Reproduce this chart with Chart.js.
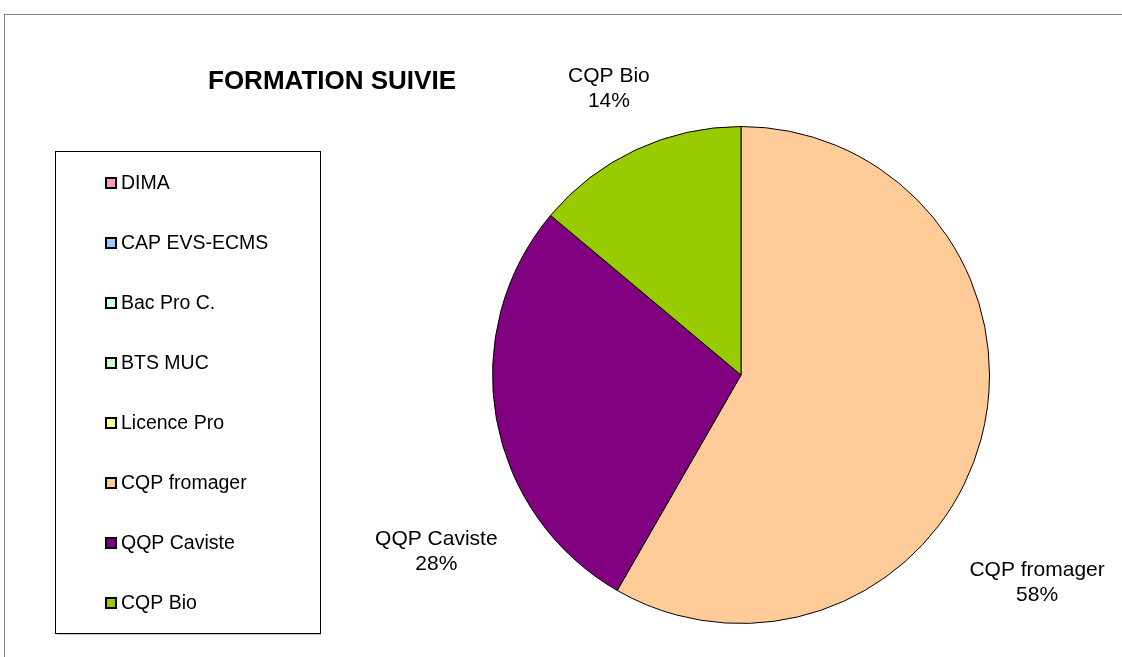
<!DOCTYPE html>
<html>
<head>
    <title>Formation suivie</title>
    <script src="https://cdn.jsdelivr.net/npm/chart.js"></script>
    <style>
        body { margin: 0; padding: 0; background: #ffffff; }
        .chart-container { width: 1122px; height: 657px; }
    </style>
</head>
<body>
    <div class="chart-container">
        <canvas id="formationChart"></canvas>
    </div>

    <script>
        // données du graphique
        const categories = ['DIMA', 'CAP EVS-ECMS', 'Bac Pro C.', 'BTS MUC', 'Licence Pro', 'CQP fromager', 'QQP Caviste', 'CQP Bio'];
        const percents = [0, 0, 0, 0, 0, 58.3, 27.8, 13.9];
        const colors = ['#FF99CC', '#99CCFF', '#CCFFFF', '#CCFFCC', '#FFFF99', '#FFCC99', '#800080', '#99CC00'];

        const FONT = '"Liberation Sans", Arial, sans-serif';

        // décalage des étiquettes (style, par rapport au bord de la part)
        const labelShift = {
            'CQP fromager': [56, 143],
            'QQP Caviste': [-60, 133],
            'CQP Bio': [-27, -62]
        };

        // cadre, titre et légende façon Excel
        const decorPlugin = {
            id: 'decor',
            beforeDraw(chart) {
                const c = chart.ctx;
                c.save();
                c.fillStyle = '#ffffff';
                c.fillRect(0, 0, chart.width, chart.height);
                c.strokeStyle = '#808080';
                c.lineWidth = 1;
                c.strokeRect(4.5, 14.5, chart.width + 10, chart.height + 10);

                // titre
                c.fillStyle = '#000000';
                c.font = 'bold 26px ' + FONT;
                c.textAlign = 'center';
                c.textBaseline = 'middle';
                c.fillText('FORMATION SUIVIE', 332, 82);

                // boîte de légende
                c.strokeStyle = '#c8c8c8';
                c.beginPath();
                c.moveTo(57, 634.5); c.lineTo(321, 634.5);
                c.stroke();
                c.strokeStyle = '#000000';
                c.strokeRect(55.5, 151.5, 265, 482);

                c.font = '19.5px ' + FONT;
                c.textAlign = 'left';
                chart.data.labels.forEach((lab, i) => {
                    const y = 183 + i * 60;
                    c.fillStyle = chart.data.datasets[0].backgroundColor[i];
                    c.fillRect(106, y - 5, 10, 10);
                    c.lineWidth = 2;
                    c.strokeStyle = '#000000';
                    c.strokeRect(106, y - 5, 10, 10);
                    c.fillStyle = '#000000';
                    c.fillText(lab, 121, y + 1);
                });
                c.restore();
            },
            afterDatasetsDraw(chart) {
                // étiquettes des parts
                const c = chart.ctx;
                const ds = chart.data.datasets[0];
                const meta = chart.getDatasetMeta(0);
                c.save();
                c.fillStyle = '#000000';
                c.font = '21px ' + FONT;
                c.textAlign = 'center';
                c.textBaseline = 'middle';
                meta.data.forEach((arc, i) => {
                    if (!ds.data[i]) return;
                    const lab = chart.data.labels[i];
                    const mid = (arc.startAngle + arc.endAngle) / 2;
                    const shift = labelShift[lab] || [0, 0];
                    const x = arc.x + Math.cos(mid) * arc.outerRadius + shift[0];
                    const y = arc.y + Math.sin(mid) * arc.outerRadius + shift[1];
                    c.fillText(lab, x, y - 12);
                    c.fillText(Math.round(ds.data[i]) + '%', x, y + 13);
                });
                c.restore();
            }
        };

        const ctx = document.getElementById('formationChart').getContext('2d');
        const chart = new Chart(ctx, {
            type: 'pie',
            data: {
                labels: categories,
                datasets: [{
                    data: percents,
                    backgroundColor: colors,
                    borderColor: '#000000',
                    borderWidth: percents.map(v => v > 0 ? 1 : 0)
                }]
            },
            options: {
                responsive: true,
                maintainAspectRatio: false,
                animation: false,
                layout: {
                    padding: { left: 492, right: 132, top: 126, bottom: 33 }
                },
                plugins: {
                    legend: { display: false },
                    tooltip: { enabled: false }
                }
            },
            plugins: [decorPlugin]
        });
    </script>
</body>
</html>
